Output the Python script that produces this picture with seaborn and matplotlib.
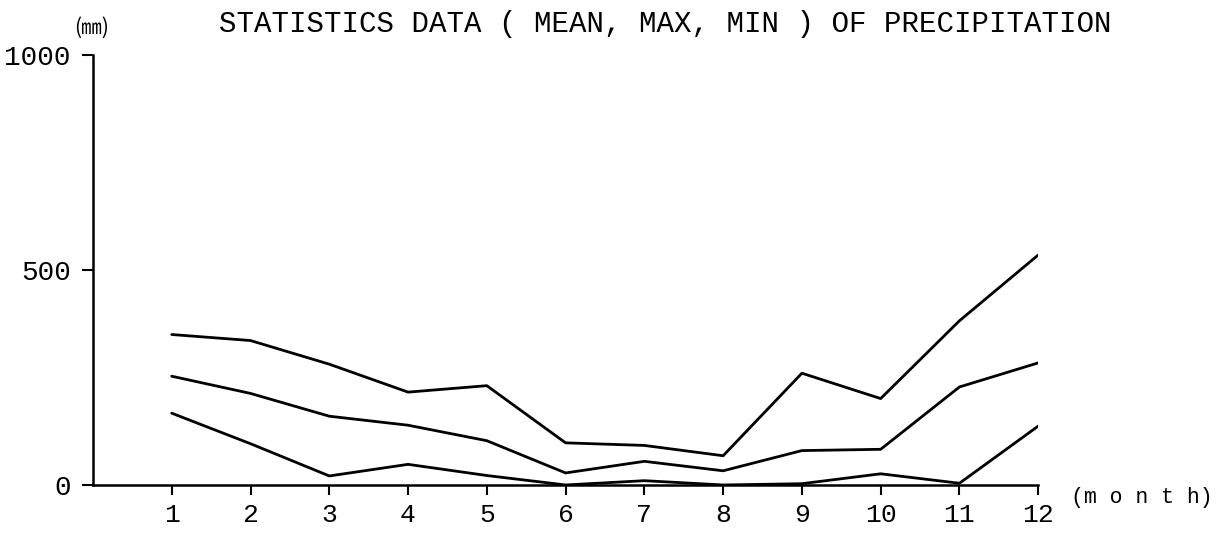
import matplotlib
matplotlib.use("Agg")
import matplotlib.pyplot as plt
import numpy as np
import pandas as pd
import seaborn as sns

# Monthly precipitation statistics (mm)
months = list(range(1, 13))
max_mm = [350, 336, 281, 216, 231, 98, 92, 68, 260, 201, 382, 535]
mean_mm = [253, 213, 160, 139, 103, 28, 55, 33, 80, 83, 228, 284]
min_mm = [167, 96, 21, 48, 22, 0, 10, 0, 3, 26, 4, 137]

y_ticks = [0, 500, 1000]
y_tick_labels = ["0", "500", "1000"]
x_tick_labels = [str(m) for m in months]

title = "STATISTICS DATA ( MEAN, MAX, MIN ) OF PRECIPITATION"
unit_label = "(㎜)"
x_label = "(m o n t h)"

df = pd.concat(
    [
        pd.DataFrame({"month": months, "mm": vals, "stat": name})
        for name, vals in (("max", max_mm), ("mean", mean_mm), ("min", min_mm))
    ],
    ignore_index=True,
)

sns.set_theme(style="ticks")
plt.rcParams["font.family"] = ["Liberation Mono", "DejaVu Sans"]

fig = plt.figure(figsize=(12.2, 5.35), dpi=100)
ax = fig.add_axes([0.0762, 0.0935, 0.851 - 0.0762, 0.897 - 0.0935])

sns.lineplot(
    data=df, x="month", y="mm", units="stat", estimator=None,
    color="black", linewidth=2.0, ax=ax, legend=False,
)

ax.set_xlim(0, 12)
ax.set_ylim(0, 1000)
ax.set_xticks(months)
ax.set_xticklabels(x_tick_labels, fontsize=19)
ax.set_yticks(y_ticks)
ax.set_yticklabels(y_tick_labels, fontsize=20)
ax.set_xlabel("")
ax.set_ylabel("")

ax.tick_params(axis="x", direction="out", length=7, width=1.5, pad=6, colors="black")
ax.tick_params(axis="y", direction="out", length=8, width=1.5, pad=8, colors="black")

for side in ("top", "right"):
    ax.spines[side].set_visible(False)
for side in ("left", "bottom"):
    ax.spines[side].set_color("black")
    ax.spines[side].set_linewidth(1.8)

fig.text(0.545, 0.955, title, ha="center", va="center", fontsize=21, color="black")
fig.text(0.0754, 0.948, unit_label, ha="center", va="center", fontsize=15,
         color="black", family=["Noto Sans CJK JP", "DejaVu Sans"])
fig.text(0.936, 0.07, x_label, ha="center", va="center", fontsize=15.5, color="black")

fig.savefig("out.png", dpi=100, facecolor="white")
